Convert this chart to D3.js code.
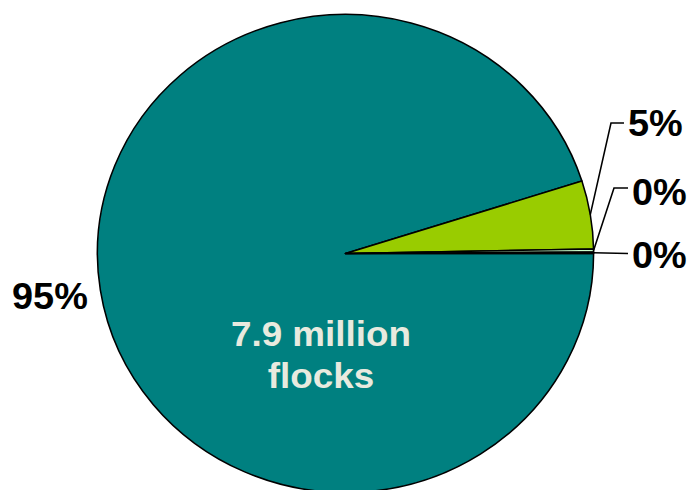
<!DOCTYPE html>
<html>
<head>
<meta charset="utf-8">
<script src="https://cdn.jsdelivr.net/npm/d3@7/dist/d3.min.js"></script>
<style>
  html, body { margin: 0; padding: 0; background: #ffffff; }
  svg { display: block; }
  text { font-family: "Liberation Sans", Arial, Helvetica, sans-serif; font-weight: bold; }
</style>
</head>
<body>
<svg id="chart" width="691" height="490"></svg>
<script>
// Share of flocks by group
const categories = ["Group A", "Group B", "Group C", "Group D"];
const shares = [95.1, 4.6, 0.2, 0.1];
const colors = ["#008080", "#99CC00", "#CCFFCC", "#E6F5E0"];
const totalLabel = ["7.9 million", "flocks"];

const W = 691, H = 490;
const stretchX = 1.038;            // slight horizontal stretch of the whole drawing
const cx = 345.5, cy = 253.5;      // pie centre (page px)
const radius = 239;

const svg = d3.select("#chart");
const g = svg.append("g").attr("transform", `scale(${stretchX},1)`);
const px = x => x / stretchX;      // page x -> group x

const pie = d3.pie().sort(null).value(d => d)
  .startAngle(Math.PI / 2).endAngle(Math.PI / 2 + 2 * Math.PI);
const arcs = pie(shares);
const arc = d3.arc().innerRadius(0).outerRadius(radius);

const pieG = g.append("g").attr("transform", `translate(${px(cx)},${cy})`);
pieG.selectAll("path.slice")
  .data(arcs)
  .join("path")
  .attr("class", "slice")
  .attr("d", arc)
  .attr("fill", (d, i) => colors[i])
  .attr("stroke", "#000")
  .attr("stroke-width", 1.5)
  .attr("stroke-linejoin", "round");

// Percent labels
const fmt = v => Math.round(v) + "%";
const labelFont = 36.5;

// Outside labels with leader lines for the small slices (page coordinates for elbows/text)
const outside = [
  { i: 1, elbow: [611, 123], end: [624, 123], text: [628, 136] },
  { i: 2, elbow: [614, 188], end: [628, 188], text: [632, 205] },
  { i: 3, elbow: null,       end: [628, 253.5], text: [632, 268] }
];

outside.forEach(o => {
  const a = arcs[o.i];
  const mid = (a.startAngle + a.endAngle) / 2;
  const sx = px(cx) + Math.sin(mid) * radius;
  const sy = cy - Math.cos(mid) * radius;
  const pts = [[sx, sy]];
  if (o.elbow) pts.push([px(o.elbow[0]), o.elbow[1]]);
  pts.push([px(o.end[0]), o.end[1]]);
  g.append("path")
    .attr("d", d3.line()(pts))
    .attr("fill", "none")
    .attr("stroke", "#000")
    .attr("stroke-width", 1.5);
  g.append("text")
    .attr("x", px(o.text[0]))
    .attr("y", o.text[1])
    .attr("font-size", labelFont)
    .attr("fill", "#000")
    .text(fmt(shares[o.i]));
});

// Large slice label on the left
g.append("text")
  .attr("x", px(12))
  .attr("y", 309)
  .attr("font-size", labelFont)
  .attr("fill", "#000")
  .text(fmt(shares[0]));

// Total inside the pie
g.append("text")
  .attr("text-anchor", "middle")
  .attr("font-size", 35.5)
  .attr("fill", "#E8EADF")
  .selectAll("tspan")
  .data(totalLabel)
  .join("tspan")
  .attr("x", px(321))
  .attr("y", (d, i) => 346 + i * 42)
  .text(d => d);
</script>
</body>
</html>
